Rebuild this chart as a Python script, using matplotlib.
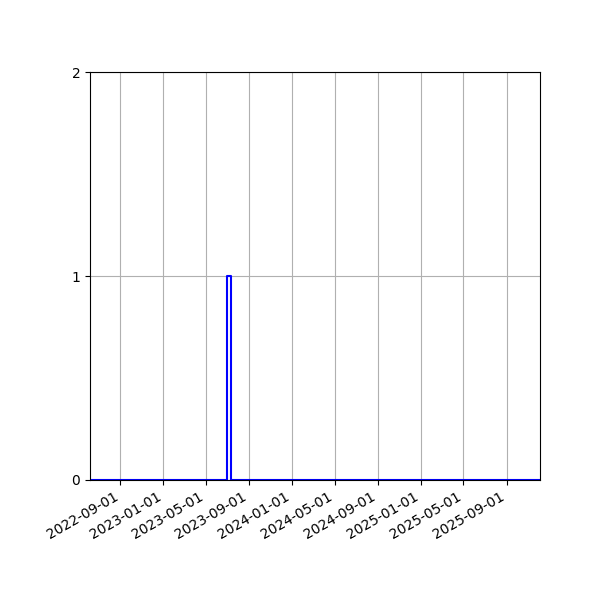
import matplotlib
matplotlib.use('Agg')
import matplotlib.pyplot as plt
import matplotlib.dates as mdates
import pandas as pd

# step data: one count around early July 2023, zero elsewhere
dates = ['2022-06-07', '2023-06-30', '2023-07-11', '2025-12-04']
counts = [0, 1, 0, 0]
tick_dates = ['2022-09-01', '2023-01-01', '2023-05-01', '2023-09-01', '2024-01-01',
              '2024-05-01', '2024-09-01', '2025-01-01', '2025-05-01', '2025-09-01']

x = pd.to_datetime(dates)
fig, ax = plt.subplots(figsize=(6, 6), dpi=100)
ax.step(x, counts, where='post', color='blue', linewidth=1.5)
ax.set_xlim(x[0], x[-1])
ax.set_ylim(0, 2)
ax.set_yticks([0, 1, 2])
ax.set_xticks(pd.to_datetime(tick_dates))
ax.xaxis.set_major_formatter(mdates.DateFormatter('%Y-%m-%d'))
ax.grid(True)
fig.autofmt_xdate()
fig.subplots_adjust(left=0.15, right=0.9, top=0.88, bottom=0.2)
fig.savefig('out.png')
